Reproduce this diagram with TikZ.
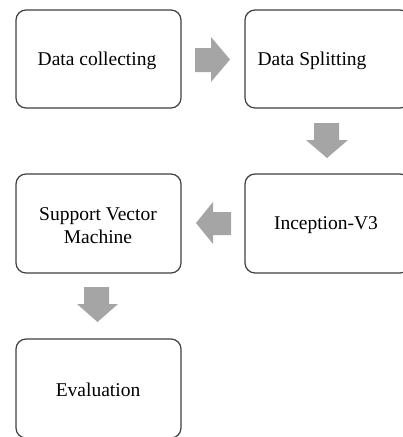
\documentclass[tikz,border=0pt]{standalone}
\usepackage{fontspec}
\setmainfont{Liberation Serif}
\definecolor{boxline}{HTML}{404040}
\definecolor{arrowgray}{HTML}{A5A5A5}
\begin{document}
\begin{tikzpicture}[x=1pt,y=-1pt,
  stagebox/.style={draw=boxline, line width=1.2pt, rounded corners=10pt, fill=white},
  stagetext/.style={font=\fontsize{19.5}{23}\selectfont, align=center, inner sep=0pt},
  blockarrow/.style={fill=arrowgray, draw=none}]
\useasboundingbox (0,0) rectangle (403,437);

% stage boxes
\draw[stagebox] (16,10) rectangle (181,108);
\draw[stagebox] (245,10) rectangle (410,108);
\draw[stagebox] (245,174) rectangle (410,273);
\draw[stagebox] (16,174) rectangle (181,273);
\draw[stagebox] (16,339) rectangle (181,438);

% stage labels
\node[stagetext] (collect) at (97,61) {Data collecting};
\node[stagetext] (split) at (312,61) {Data Splitting};
\node[stagetext] (incep) at (326,225) {Inception-V3};
\node[stagetext] (svm) at (98,226) {Support Vector\\Machine};
\node[stagetext] (eval) at (98,390) {Evaluation};

% block arrows between stages
\fill[blockarrow] (195,48) -- (211,48) -- (211,37) -- (230,59.5) -- (211,82) -- (211,72) -- (195,72) -- cycle;
\fill[blockarrow] (314,123) -- (339,123) -- (339,140) -- (348,140) -- (327,158) -- (306,140) -- (314,140) -- cycle;
\fill[blockarrow] (231,212) -- (213,212) -- (213,202) -- (196,223) -- (213,244) -- (213,235) -- (231,235) -- cycle;
\fill[blockarrow] (84,287) -- (109,287) -- (109,304) -- (118,304) -- (97.5,322) -- (77,304) -- (84,304) -- cycle;
\end{tikzpicture}
\end{document}
